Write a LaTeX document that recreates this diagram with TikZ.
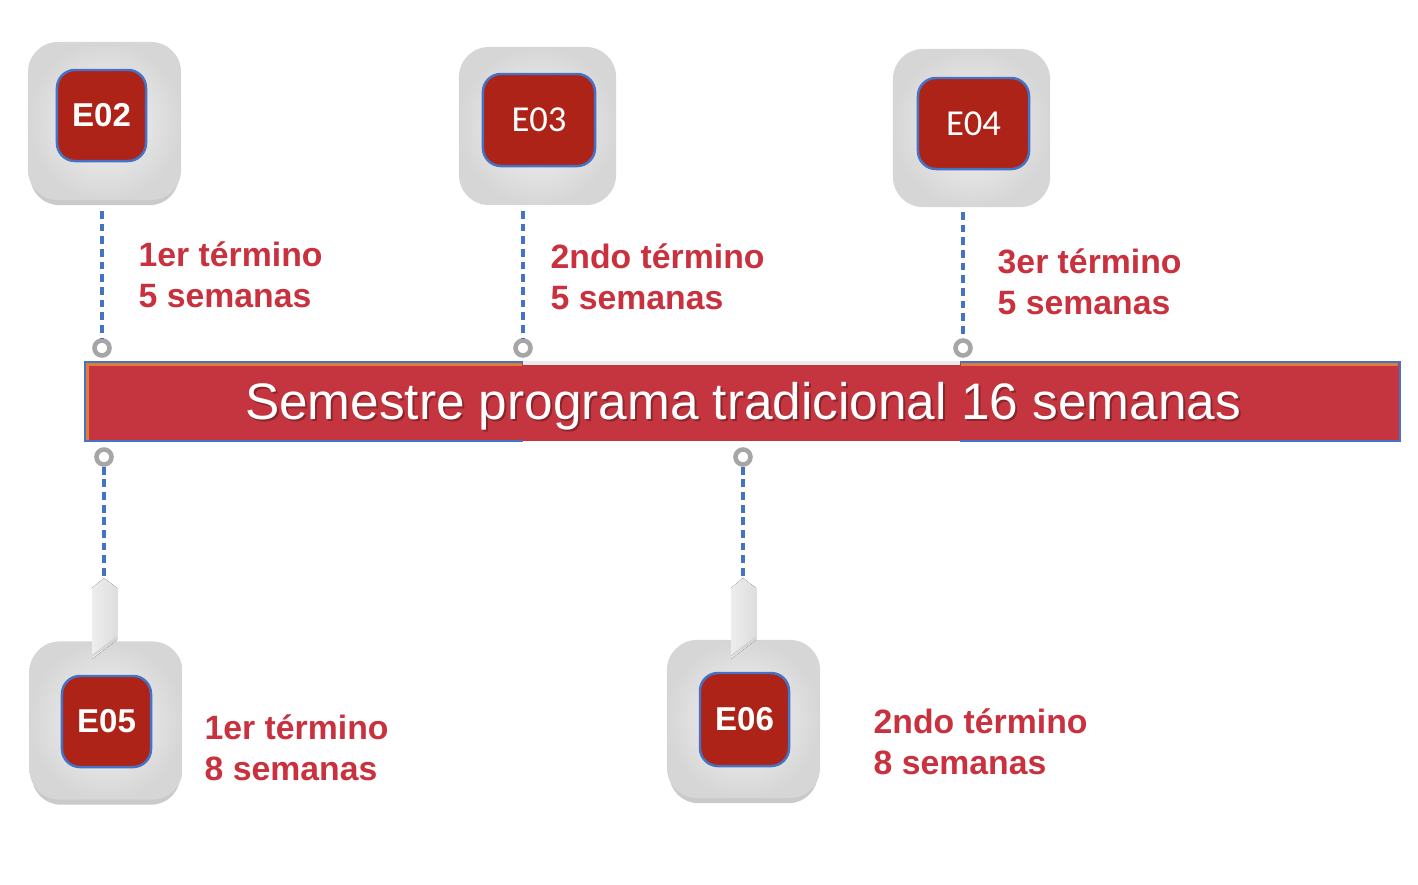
\documentclass[tikz,border=0pt]{standalone}
\usepackage{fontspec}
\setmainfont{Liberation Sans}
\newfontfamily\carlito{Carlito}
\usetikzlibrary{shadows,calc}
\definecolor{barred}{HTML}{C5353F}
\definecolor{tagred}{HTML}{AE2318}
\definecolor{lnblue}{HTML}{4472C4}
\definecolor{ringgray}{HTML}{A6A6A6}
\definecolor{txtred}{HTML}{C8313D}
\definecolor{edgeorange}{HTML}{E07B39}
\tikzset{
  tile/.style={rounded corners=0.3cm, minimum width=1.53cm, minimum height=1.58cm, inner sep=0pt,
    shade, inner color=gray!8, outer color=gray!32, draw=none},
  tileshadow/.style={drop shadow={shadow xshift=0pt, shadow yshift=-2.2pt, shadow scale=0.97, opacity=.35, fill=gray!80!black}},
  code/.style={rounded corners=0.18cm, fill=tagred, draw=lnblue, line width=0.7pt, text=white,
    inner sep=0pt, minimum width=0.89cm, minimum height=0.91cm},
  boldcode/.style={code, font=\bfseries\fontsize{9.4}{10}\selectfont},
  thincode/.style={code, font=\carlito\fontsize{10.4}{11}\selectfont},
  ring/.style={circle, draw=ringgray, line width=1.3pt, minimum size=0.15cm, inner sep=0pt, fill=white},
  link/.style={draw=lnblue, line width=0.9pt, dash pattern=on 2.2pt off 1.4pt},
  term/.style={text=txtred, font=\bfseries\fontsize{9.6}{11.7}\selectfont, align=left, anchor=west, inner sep=0pt},
  tab/.style={left color=gray!14, right color=gray!26, draw=none}
}

\begin{document}
\begin{tikzpicture}[x=0.01cm, y=-0.01cm]
\useasboundingbox (0,0) rectangle (1418,884);

% bar
\fill [barred] (85,362) rectangle (1400,441);
\draw [lnblue, line width=0.6pt] (523,362) -- (85,362) -- (85,441) -- (523,441);
\draw [lnblue, line width=0.6pt] (960,362) -- (1400,362) -- (1400,441) -- (960,441);
\draw [gray!15, line width=1pt] (523,363) -- (960,363);
\draw [edgeorange, line width=0.6pt] (87.5,440) -- (87.5,364.5) -- (522,364.5);
\draw [edgeorange, line width=0.6pt] (961,364.5) -- (1398,364.5);
\node [text=barred!45!black, opacity=.55, font=\fontsize{14.6}{16}\selectfont] (titleshadow) at (745,408) {Semestre programa tradicional 16 semanas};
\node [text=white, font=\fontsize{14.6}{16}\selectfont] (title) at (743,406) {Semestre programa tradicional 16 semanas};

% top tiles
\node [tile, tileshadow] (t02) at (104.5,121) {};
\node [boldcode] (e02) at (101.5,115.5) {E02};
\node [tile, minimum width=1.57cm] (t03) at (537.5,126) {};
\node [thincode, minimum width=1.12cm, minimum height=0.92cm] (e03) at (539,120) {E03};
\node [tile, minimum width=1.57cm] (t04) at (971.5,128) {};
\node [thincode, minimum width=1.11cm] (e04) at (973.5,123.5) {E04};

% top rings and links
\node [ring] (r02) at (102,348) {};
\node [ring] (r03) at (523,348) {};
\node [ring] (r04) at (963,348) {};
\coordinate (d02) at (102,211);
\coordinate (d03) at (523,211);
\coordinate (d04) at (963,212);
\draw [link] (d02) -- (r02.north);
\draw [link] (d03) -- (r03.north);
\draw [link] (d04) -- (r04.north);

\node [term] (l02) at (138,275) {1er término\\5 semanas};
\node [term] (l03) at (550,277) {2ndo término\\5 semanas};
\node [term] (l04) at (997,282) {3er término\\5 semanas};

% bottom tiles
\node [tile, tileshadow] (t05) at (106,720.5) {};
\node [boldcode] (e05) at (106.5,721.5) {E05};
\node [tile, tileshadow] (t06) at (743.5,719) {};
\node [boldcode, minimum height=0.93cm] (e06) at (744.5,719.5) {E06};

% bottom rings, links and tabs
\node [ring] (r05) at (104,457) {};
\node [ring] (r06) at (743,457) {};
\coordinate (p05) at (104,578);
\coordinate (p06) at (743,578);
\draw [link] (r05.south) -- (p05);
\draw [link] (r06.south) -- (p06);
\fill [tab] (p05) -- ++(13,10) -- ++(0,52) -- ++(-25,19) -- ++(0,-71) -- cycle;
\fill [gray!34] ($(p05)+(13,58)$) -- ++(0,4) -- ++(-25,17) -- ++(0,-2) -- cycle;
\fill [tab] (p06) -- ++(13,10) -- ++(0,52) -- ++(-25,19) -- ++(0,-71) -- cycle;
\fill [gray!34] ($(p06)+(13,58)$) -- ++(0,4) -- ++(-25,17) -- ++(0,-2) -- cycle;

\node [term] (l05) at (204,748) {1er término\\8 semanas};
\node [term] (l06) at (873,742) {2ndo término\\8 semanas};

\end{tikzpicture}
\end{document}
